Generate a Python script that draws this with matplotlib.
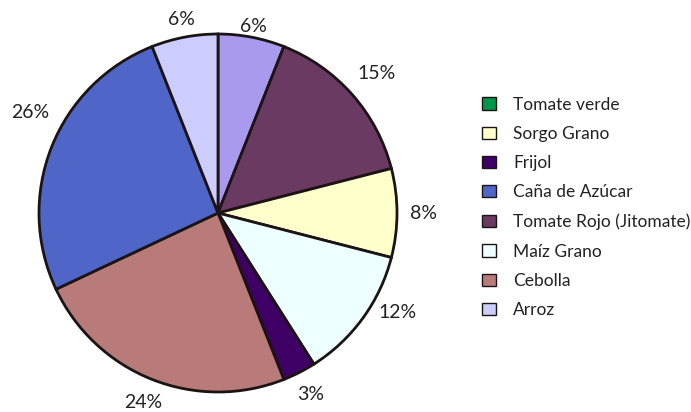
import numpy as np
import matplotlib.pyplot as plt
from matplotlib.patches import Patch

# slices, clockwise from 12 o'clock
slice_names = ["Otro", "Tomate Rojo (Jitomate)", "Sorgo Grano", "Maíz Grano",
               "Frijol", "Cebolla", "Caña de Azúcar", "Arroz"]
slice_values = [6, 15, 8, 12, 3, 24, 26, 6]
slice_colors = ["#A99AEE", "#6B3A63", "#FFFFCC", "#EEFFFF",
                "#3F0066", "#B97B7A", "#5065C8", "#CCCCFF"]

# legend entries (order as in the original)
legend_names = ["Tomate verde", "Sorgo Grano", "Frijol", "Caña de Azúcar",
                "Tomate Rojo (Jitomate)", "Maíz Grano", "Cebolla", "Arroz"]
legend_colors = ["#00964A", "#FFFFCC", "#3F0066", "#5065C8",
                 "#6B3A63", "#EEFFFF", "#B97B7A", "#CCCCFF"]

# percentage label placement: distance (pie radii) and angle nudge (deg)
label_dist = [1.06, 1.18, 1.15, 1.145, 1.14, 1.14, 1.19, 1.10]
label_nudge = [0, 0, 0, 7, 0, 0, -6.4, 0]

plt.rcParams['font.family'] = ['Lato', 'DejaVu Sans']

W, H = 691, 412
fig = plt.figure(figsize=(W/100, H/100), dpi=100)
cx, cy, r = 218, 213, 179
ax = fig.add_axes([(cx-r)/W, (H-cy-r)/H, 2*r/W, 2*r/H])

wedges, texts, autotexts = ax.pie(
    slice_values, colors=slice_colors, startangle=90, counterclock=False,
    autopct=lambda p: "%d%%" % round(p), pctdistance=1.15,
    wedgeprops=dict(edgecolor="#1c1414", linewidth=2),
    textprops=dict(fontsize=14, color="#222222"))
for w, t, d, n in zip(wedges, autotexts, label_dist, label_nudge):
    a = np.deg2rad((w.theta1 + w.theta2) / 2 + n)
    t.set_position((d * np.cos(a), d * np.sin(a)))
ax.set_aspect("equal")
ax.set_xlim(-1, 1)
ax.set_ylim(-1, 1)

handles = [Patch(facecolor=c, edgecolor="#1c1414", linewidth=1) for c in legend_colors]
fig.legend(handles, legend_names, loc="upper left",
           bbox_to_anchor=(466/W, (H-81)/H), frameon=False,
           fontsize=12.5, labelspacing=0.765, handlelength=0.82,
           handleheight=0.7, handletextpad=1.0, labelcolor="#222222")

fig.savefig("out.png", dpi=100)
